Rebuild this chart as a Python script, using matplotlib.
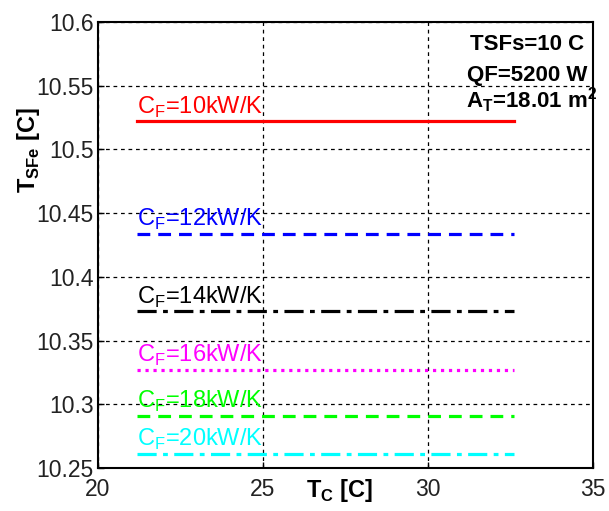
import matplotlib
matplotlib.use("Agg")
import matplotlib.pyplot as plt

plt.rcParams['font.family'] = ['Liberation Sans', 'DejaVu Sans']
plt.rcParams['mathtext.fontset'] = 'custom'
plt.rcParams['mathtext.rm'] = 'Liberation Sans'
plt.rcParams['mathtext.bf'] = 'Liberation Sans:bold'

# Data
tc = [21.2, 32.6]
cf_labels = ['10', '12', '14', '16', '18', '20']
tsfe_values = [10.522, 10.434, 10.373, 10.327, 10.291, 10.261]
colors = ['#ff0000', '#0000ff', '#000000', '#ff00ff', '#00ff00', '#00ffff']
styles = ['-', (0, (4, 2.5)), (0, (6, 2, 1.5, 2)), (0, (1, 1.5)), (0, (4, 2.5)), (0, (6, 2, 1.5, 2))]

fig = plt.figure(figsize=(6.09, 5.11), dpi=100)
ax = fig.add_axes([0.1604, 0.0841, 0.9737 - 0.1604, 0.957 - 0.0841])

for lab, v, c, ls in zip(cf_labels, tsfe_values, colors, styles):
    ax.plot(tc, [v, v], color=c, linestyle=ls, linewidth=2.3)
    ax.text(tc[0], v + 0.0062, r'C$_\mathregular{F}$=' + lab + 'kW/K',
            color=c, fontsize=17, ha='left', va='baseline')

ax.set_xlim(20, 35)
ax.set_ylim(10.25, 10.6)
ax.set_xticks([20, 25, 30, 35])
ax.set_yticks([10.25, 10.3, 10.35, 10.4, 10.45, 10.5, 10.55, 10.6])
ax.set_yticklabels(['10.25', '10.3', '10.35', '10.4', '10.45', '10.5', '10.55', '10.6'])
ax.tick_params(labelsize=16.5, direction='in', length=4, width=1, colors='black')
ax.tick_params(axis='y', pad=3)
ax.tick_params(axis='x', pad=7)
for t in ax.get_xticklabels() + ax.get_yticklabels():
    t.set_color('#222222')
ax.grid(True, color='black', linestyle=(0, (3, 3)), linewidth=0.9)
for s in ax.spines.values():
    s.set_linewidth(1.5)

fig.text(340 / 609, 1 - 490 / 511, r'T$_\mathbf{C}$ [C]', fontsize=17, fontweight='bold',
         ha='center', va='center')
fig.text(28 / 609, 1 - 150 / 511, r'T$_\mathbf{SFe}$ [C]', fontsize=17, fontweight='bold',
         ha='center', va='center', rotation=90)

ax.text(470 / 609, 1 - 50 / 511, 'TSFs=10 C', transform=fig.transFigure,
        fontsize=16, fontweight='bold', ha='left', va='baseline')
ax.text(467 / 609, 1 - 81 / 511, 'QF=5200 W', transform=fig.transFigure,
        fontsize=16, fontweight='bold', ha='left', va='baseline')
ax.text(466 / 609, 1 - 108 / 511, r'A$_\mathbf{T}$=18.01 m$^\mathbf{2}$', transform=fig.transFigure,
        fontsize=16, fontweight='bold', ha='left', va='baseline')

fig.savefig('out.png', dpi=100)
